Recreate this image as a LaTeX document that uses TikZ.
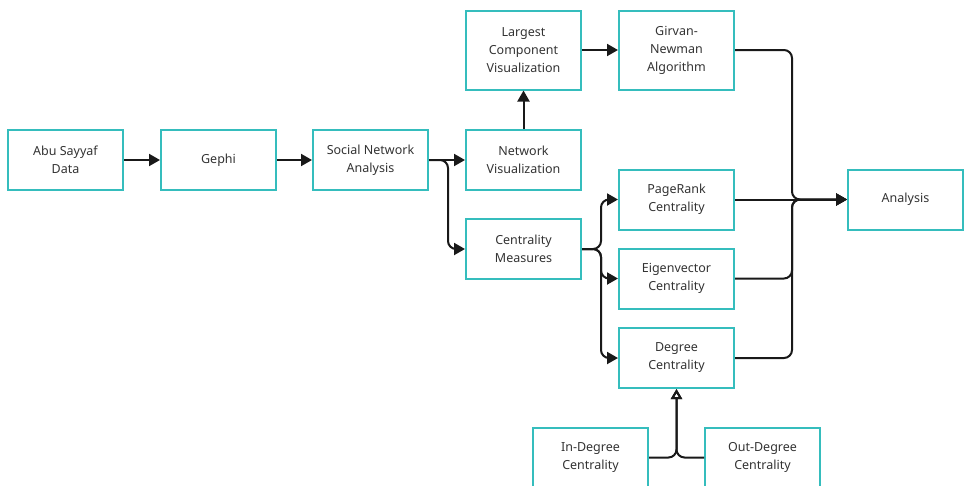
\documentclass[tikz,border=0pt]{standalone}
\usepackage{fontspec}
\setmainfont{Noto Sans}
\usetikzlibrary{arrows.meta}
\definecolor{boxteal}{HTML}{35BDBD}
\definecolor{textgrey}{HTML}{333333}
\tikzstyle{every node}=[draw=boxteal, line width=2pt, minimum width=115pt, minimum height=60pt,
    inner sep=2pt, align=center, text=textgrey, font=\fontsize{12.5}{18}\selectfont]
\tikzstyle{tall}=[minimum height=79pt]
\tikzstyle{flow}=[line width=2pt, black!90, rounded corners=8pt, -{Triangle[length=11pt,width=12pt]}]
\tikzstyle{spec}=[line width=2pt, black!90, rounded corners=8pt, -{Triangle[open,length=10pt,width=11pt]}]

\begin{document}
\begin{tikzpicture}[x=1pt, y=-1pt]
\useasboundingbox (0,0) rectangle (964,485);
% Main chain
    \node (abu) at (65.5,160) {Abu Sayyaf\\Data};
    \node (gephi) at (218.5,160) {Gephi};
    \node (sna) at (370.5,160) {Social Network\\Analysis};
    \node (netvis) at (523.5,160) {Network\\Visualization};
    \node[tall] (largest) at (523.5,50) {Largest\\Component\\Visualization};
    \node[tall] (girvan) at (676.5,50) {Girvan-\\Newman\\Algorithm};
    \node (measures) at (523.5,249) {Centrality\\Measures};
% Centralities
    \node (pagerank) at (676.5,199.5) {PageRank\\Centrality};
    \node (eigen) at (676.5,278.5) {Eigenvector\\Centrality};
    \node (degree) at (676.5,358) {Degree\\Centrality};
    \node (indeg) at (590.5,457.5) {In-Degree\\Centrality};
    \node (outdeg) at (762.5,457.5) {Out-Degree\\Centrality};
    \node (analysis) at (905.5,199.5) {Analysis};
% Flow arrows
    \draw[flow] (abu) -- (gephi);
    \draw[flow] (gephi) -- (sna);
    \draw[flow] (sna) -- (netvis);
    \draw[flow] (sna.east) -- ++(19,0) |- (measures.west);
    \draw[flow] (netvis) -- (largest);
    \draw[flow] (largest) -- (girvan);
    \draw[flow] (measures.east) -- ++(19,0) |- (pagerank.west);
    \draw[flow] (measures.east) -- ++(19,0) |- (eigen.west);
    \draw[flow] (measures.east) -- ++(19,0) |- (degree.west);
% Into analysis
    \draw[flow] (girvan.east) -- ++(57,0) |- (analysis.west);
    \draw[flow] (pagerank) -- (analysis);
    \draw[flow] (eigen.east) -- ++(57,0) |- (analysis.west);
    \draw[flow] (degree.east) -- ++(57,0) |- (analysis.west);
% Degree kinds
    \draw[spec] (indeg.east) -| (degree.south);
    \draw[spec] (outdeg.west) -| (degree.south);
\end{tikzpicture}
\end{document}
